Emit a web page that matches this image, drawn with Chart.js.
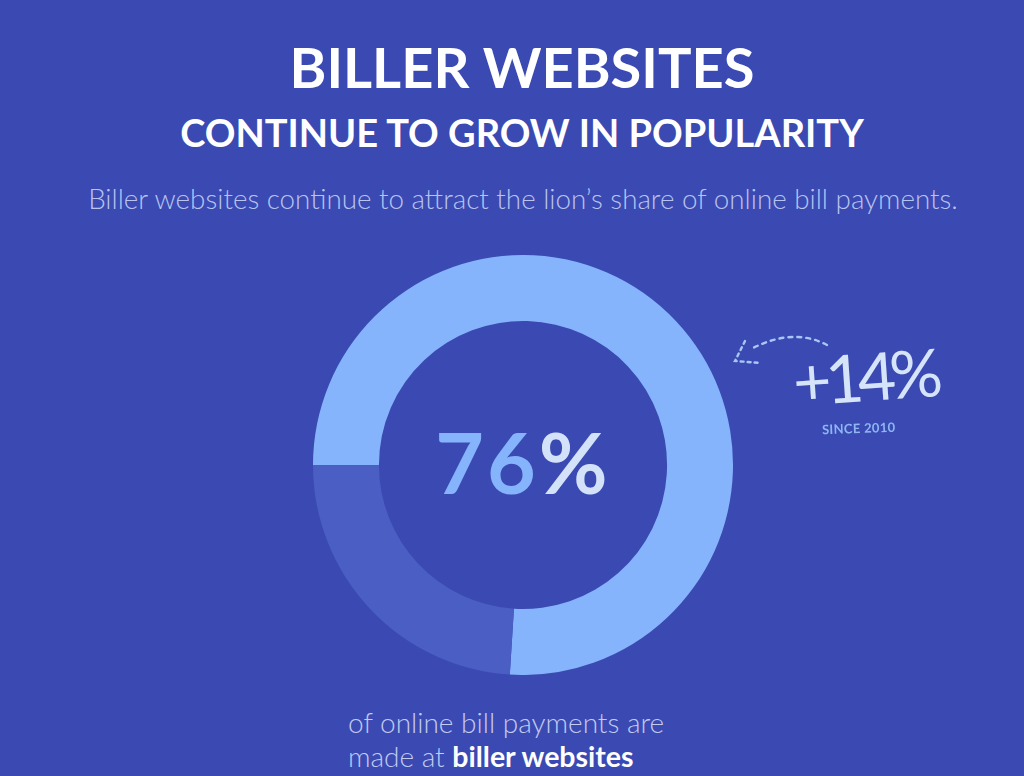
<!DOCTYPE html>
<html>
<head>
<meta charset="utf-8">
<script src="https://cdn.jsdelivr.net/npm/chart.js@4.4.1/dist/chart.umd.min.js"></script>
<style>
  html, body { margin: 0; padding: 0; }
  body {
    width: 1024px; height: 776px; overflow: hidden; position: relative;
    background: #3a4ab2; font-family: Lato, "Open Sans", sans-serif;
  }
  .abs { position: absolute; white-space: nowrap; }
  #title { left: 0; width: 1044px; top: 37px; text-align: center; color: #fff; font-weight: 700; font-size: 56px; line-height: 60px; }
  #subtitle { left: 0; width: 1044px; top: 112px; text-align: center; color: #fff; font-weight: 700; font-size: 38px; line-height: 40px; }
  #desc { left: 0; width: 1046px; top: 182px; text-align: center; color: #b9c3f0; font-weight: 300; font-size: 27.8px; line-height: 34px; }
  #chartBox { left: 313px; top: 255px; width: 420px; height: 420px; }
  #center { left: 313px; top: 251px; width: 420px; height: 420px; display: flex; align-items: center; justify-content: center; font-weight: 700; font-size: 84px; color: #85b4fc; letter-spacing: 3px; }
  #center .pct { color: #d3e2f9; }
  #note { left: 348px; top: 705px; color: #c3cbf0; font-weight: 300; font-size: 28px; line-height: 34px; }
  #note b { color: #fff; font-weight: 700; font-size: 28.5px; }
  #growth { left: 793px; top: 345px; color: #d6e4fa; font-weight: 400; font-size: 66px; line-height: 72px; letter-spacing: -6px; transform: rotate(-4deg); transform-origin: left center; }
  #since { left: 822px; top: 420px; color: #8fb6f2; font-weight: 700; font-size: 13px; letter-spacing: 0.3px; transform: rotate(-2deg); }
  #arrow { left: 725px; top: 325px; }
</style>
</head>
<body>
<div id="title" class="abs">BILLER WEBSITES</div>
<div id="subtitle" class="abs">CONTINUE TO GROW IN POPULARITY</div>
<div id="desc" class="abs">Biller websites continue to attract the lion’s share of online bill payments.</div>

<div id="chartBox" class="abs"><canvas id="donut"></canvas></div>
<div id="center" class="abs"><span>76</span><span class="pct">%</span></div>

<svg id="arrow" class="abs" width="110" height="50" viewBox="0 0 110 50">
  <path d="M 102 20 Q 68 2 26 24" fill="none" stroke="#a9c6f6" stroke-width="2.4" stroke-dasharray="4 5" stroke-linecap="round"/>
  <path d="M 20 16 L 10 36 L 36 38" fill="none" stroke="#a9c6f6" stroke-width="2.4" stroke-dasharray="3 4" stroke-linecap="round"/>
</svg>
<div id="growth" class="abs">+14%</div>
<div id="since" class="abs">SINCE 2010</div>

<div id="note" class="abs">of online bill payments are<br>made at <b>biller websites</b></div>

<script>
// 数据
const labels = ['Biller websites', 'Other channels'];
const shares = [76, 24];
const sliceColors = ['#85b4fc', '#4a5ec4'];

new Chart(document.getElementById('donut'), {
    type: 'doughnut',
    data: {
        labels: labels,
        datasets: [{
            data: shares,
            backgroundColor: sliceColors,
            borderWidth: 0,
            hoverOffset: 0
        }]
    },
    options: {
        responsive: true,
        maintainAspectRatio: false,
        rotation: -90,
        cutout: '68.6%',
        animation: false,
        layout: { padding: 0 },
        plugins: {
            legend: { display: false },
            tooltip: { enabled: false }
        }
    }
});
</script>
</body>
</html>
